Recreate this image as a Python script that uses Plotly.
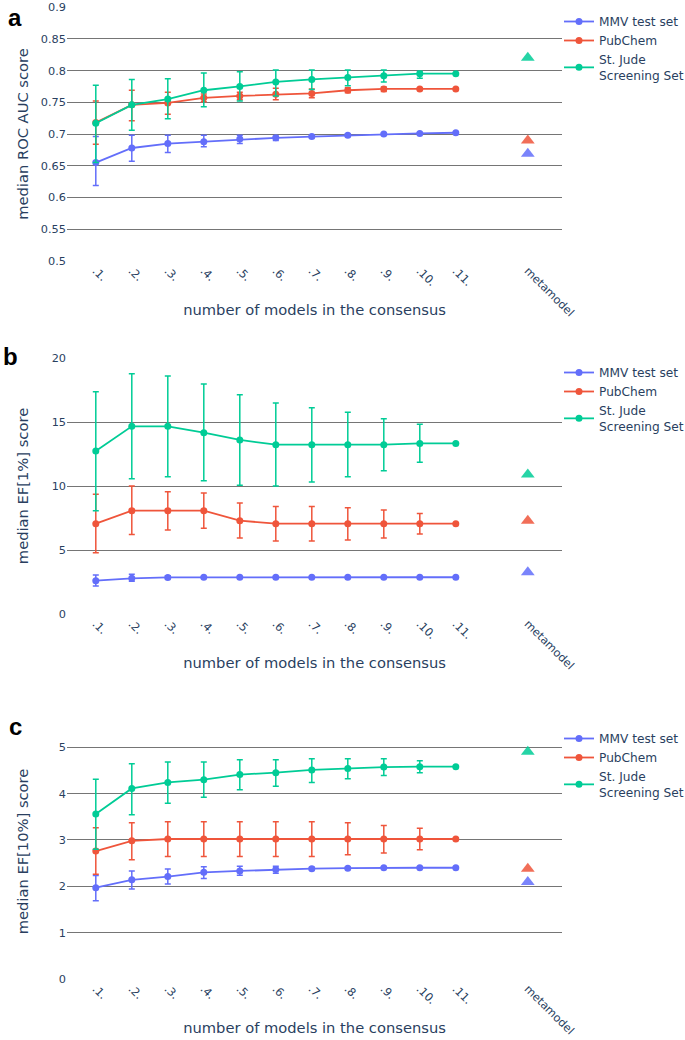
import plotly.graph_objects as go

# ---------------- data ----------------
models = [".1.", ".2.", ".3.", ".4.", ".5.", ".6.", ".7.", ".8.", ".9.", ".10.", ".11."]
meta_label = "metamodel"
x_categories = models + [" ", meta_label]

series_names = ["MMV test set", "PubChem", "St. Jude<br>Screening Set"]
colors = ["#636efa", "#EF553B", "#00cc96"]

# panel a: median ROC AUC
auc_mmv = [0.655, 0.678, 0.685, 0.688, 0.692, 0.694, 0.696, 0.698, 0.700, 0.701, 0.702]
auc_mmv_hi = [0.696, 0.698, 0.698, 0.698, 0.698, 0.697, 0.698, 0.700, 0.701, 0.702, 0.702]
auc_mmv_lo = [0.619, 0.657, 0.671, 0.680, 0.685, 0.690, 0.694, 0.696, 0.699, 0.700, 0.702]
auc_pub = [0.718, 0.746, 0.749, 0.757, 0.760, 0.7625, 0.764, 0.769, 0.771, 0.771, 0.771]
auc_pub_hi = [0.752, 0.769, 0.766, 0.763, 0.766, 0.772, 0.771, 0.773, 0.774, 0.772, 0.771]
auc_pub_lo = [0.684, 0.721, 0.731, 0.751, 0.754, 0.754, 0.757, 0.765, 0.767, 0.770, 0.771]
auc_stj = [0.717, 0.746, 0.755, 0.769, 0.775, 0.782, 0.786, 0.789, 0.792, 0.795, 0.795]
auc_stj_hi = [0.777, 0.786, 0.787, 0.796, 0.798, 0.801, 0.801, 0.801, 0.801, 0.799, 0.795]
auc_stj_lo = [0.655, 0.706, 0.724, 0.743, 0.752, 0.760, 0.770, 0.776, 0.782, 0.788, 0.795]
auc_meta = [0.669, 0.690, 0.820]

# panel b: median EF[1%]
ef1_mmv = [2.60, 2.79, 2.86, 2.87, 2.87, 2.87, 2.87, 2.87, 2.87, 2.87, 2.87]
ef1_mmv_hi = [3.05, 3.10, 2.98, 2.92, 2.90, 2.90, 2.90, 2.90, 2.90, 2.90, 2.87]
ef1_mmv_lo = [2.19, 2.55, 2.75, 2.82, 2.84, 2.84, 2.84, 2.84, 2.84, 2.84, 2.87]
ef1_pub = [7.06, 8.07, 8.07, 8.07, 7.29, 7.06, 7.06, 7.06, 7.06, 7.06, 7.06]
ef1_pub_hi = [9.35, 10.0, 9.55, 9.45, 8.67, 8.39, 8.39, 8.31, 8.12, 7.86, 7.06]
ef1_pub_lo = [4.79, 6.22, 6.56, 6.69, 5.94, 5.70, 5.70, 5.78, 5.94, 6.25, 7.06]
ef1_stj = [12.73, 14.66, 14.66, 14.17, 13.60, 13.23, 13.23, 13.23, 13.23, 13.33, 13.33]
ef1_stj_hi = [17.37, 18.77, 18.59, 17.97, 17.13, 16.48, 16.12, 15.76, 15.26, 14.82, 13.33]
ef1_stj_lo = [8.07, 10.57, 10.73, 10.42, 10.05, 10.00, 10.31, 10.73, 11.20, 11.85, 13.33]
ef1_meta = [3.27, 7.29, 10.9]

# panel c: median EF[10%]
ef10_mmv = [1.97, 2.14, 2.21, 2.30, 2.33, 2.36, 2.38, 2.39, 2.40, 2.40, 2.40]
ef10_mmv_hi = [2.23, 2.33, 2.37, 2.42, 2.43, 2.43, 2.41, 2.41, 2.41, 2.41, 2.40]
ef10_mmv_lo = [1.69, 1.94, 2.05, 2.17, 2.24, 2.28, 2.35, 2.37, 2.39, 2.39, 2.40]
ef10_pub = [2.76, 2.98, 3.02, 3.02, 3.02, 3.02, 3.02, 3.02, 3.02, 3.02, 3.02]
ef10_pub_hi = [3.26, 3.37, 3.39, 3.39, 3.39, 3.39, 3.39, 3.37, 3.31, 3.25, 3.02]
ef10_pub_lo = [2.26, 2.57, 2.64, 2.64, 2.64, 2.64, 2.64, 2.68, 2.72, 2.79, 3.02]
ef10_stj = [3.56, 4.11, 4.24, 4.30, 4.41, 4.45, 4.51, 4.54, 4.57, 4.58, 4.58]
ef10_stj_hi = [4.31, 4.64, 4.68, 4.68, 4.73, 4.73, 4.75, 4.75, 4.75, 4.71, 4.58]
ef10_stj_lo = [2.80, 3.54, 3.79, 3.92, 4.08, 4.16, 4.24, 4.32, 4.39, 4.45, 4.58]
ef10_meta = [2.09, 2.38, 4.90]

panel_letters = ["a", "b", "c"]
y_titles = ["median ROC AUC score", "median EF[1%] score", "median EF[10%] score"]
x_title = "number of models in the consensus"
y_ranges = [[0.5, 0.9001], [0, 20.001], [0, 5.5]]
y_dticks = [0.05, 5, 1]

panels = [
    ([auc_mmv, auc_pub, auc_stj], [auc_mmv_hi, auc_pub_hi, auc_stj_hi],
     [auc_mmv_lo, auc_pub_lo, auc_stj_lo], auc_meta),
    ([ef1_mmv, ef1_pub, ef1_stj], [ef1_mmv_hi, ef1_pub_hi, ef1_stj_hi],
     [ef1_mmv_lo, ef1_pub_lo, ef1_stj_lo], ef1_meta),
    ([ef10_mmv, ef10_pub, ef10_stj], [ef10_mmv_hi, ef10_pub_hi, ef10_stj_hi],
     [ef10_mmv_lo, ef10_pub_lo, ef10_stj_lo], ef10_meta),
]

# ---------------- layout geometry ----------------
W, H = 685, 1040
ML, MR, MT, MB = 67, 123, 7, 61
PH = H - MT - MB
PW = W - ML - MR


def py(pix):
    return 1 - (pix - MT) / PH


domains = [[py(261), 1.0], [py(614), py(358)], [0.0, py(724)]]
letter_pos = [(6, 18), (1, 356), (7, 726)]
FONT = "Verdana, DejaVu Sans, sans-serif"

fig = go.Figure()
for i, (vals, his, los, meta) in enumerate(panels):
    sfx = "" if i == 0 else str(i + 1)
    xref, yref = "x" + sfx, "y" + sfx
    leg = "legend" + sfx
    for j in range(3):
        v, hi, lo = vals[j], his[j], los[j]
        fig.add_trace(go.Scatter(
            x=models, y=v, name=series_names[j], mode="lines+markers",
            line=dict(color=colors[j], width=1.8),
            marker=dict(color=colors[j], size=7),
            error_y=dict(type="data", symmetric=False,
                         array=[h - a for h, a in zip(hi, v)],
                         arrayminus=[a - l for a, l in zip(v, lo)],
                         color=colors[j], thickness=1.5, width=3),
            xaxis=xref, yaxis=yref, legend=leg,
        ))
    for j in range(3):
        fig.add_trace(go.Scatter(
            x=[meta_label], y=[meta[j]], mode="markers", showlegend=False,
            marker=dict(symbol="triangle-up", size=12, color=colors[j], opacity=0.85),
            xaxis=xref, yaxis=yref, legend=leg,
        ))

layout = dict(
    width=W, height=H, template="none",
    paper_bgcolor="white", plot_bgcolor="white",
    font=dict(family=FONT, size=12, color="#2a3f5f"),
    margin=dict(l=ML, r=MR, t=MT, b=MB, autoexpand=False),
    annotations=[],
)
for i in range(3):
    sfx = "" if i == 0 else str(i + 1)
    layout["xaxis" + sfx] = dict(
        type="category", categoryorder="array", categoryarray=x_categories,
        range=[-0.8, 12.95], tickangle=45, showgrid=False, zeroline=False,
        showline=False, ticks="", anchor="y" + sfx, automargin=False,
        tickfont=dict(size=11.3),
        title=dict(text=x_title, font=dict(size=14.7)),
    )
    layout["yaxis" + sfx] = dict(
        domain=domains[i], range=y_ranges[i], dtick=y_dticks[i], anchor="x" + sfx,
        showgrid=True, gridcolor="#757575", gridwidth=1, zeroline=False,
        showline=False, ticks="", automargin=False, tickfont=dict(size=11.3),
        title=dict(text=y_titles[i], font=dict(size=14.7)),
    )
    layout["legend" + sfx] = dict(
        x=(559 - ML) / PW, xanchor="left", y=domains[i][1], yanchor="top",
        font=dict(size=12.2), bgcolor="rgba(0,0,0,0)", tracegroupgap=0,
    )
    lx, ly = letter_pos[i]
    layout["annotations"].append(dict(
        text="<b>%s</b>" % panel_letters[i], xref="paper", yref="paper",
        x=(lx - ML) / PW, y=py(ly), xanchor="left", yanchor="middle",
        showarrow=False,
        font=dict(family="Liberation Sans, Arial, sans-serif", size=24, color="black"),
    ))

fig.update_layout(**layout)
fig.write_html("out.html", config={"displayModeBar": False},
               post_script="document.body.style.margin='0';")
